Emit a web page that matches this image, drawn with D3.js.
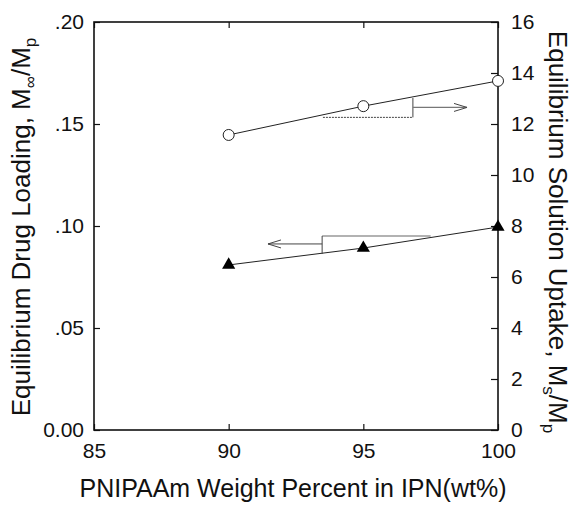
<!DOCTYPE html>
<html>
<head>
<meta charset="utf-8">
<script src="https://cdn.jsdelivr.net/npm/d3@7/dist/d3.min.js"></script>
<style>
  body { margin: 0; background: #fff; }
  text { font-family: "Liberation Sans", Arial, sans-serif; fill: #111; }
</style>
</head>
<body>
<div id="chart"></div>
<script>
// Data
const pnipaam = [90, 95, 100];
const drugLoading = [0.0809, 0.0892, 0.0995];     // left axis, triangles
const solutionUptake = [11.57, 12.70, 13.69];     // right axis, circles

// Ticks
const xTicks = [85, 90, 95, 100];
const leftTicks = [0, 0.05, 0.10, 0.15, 0.20];
const leftTickLabels = ["0.00", ".05", ".10", ".15", ".20"];
const rightTicks = [0, 2, 4, 6, 8, 10, 12, 14, 16];

// Dimensions
const dims = {width: 577, height: 506};
const plot = {left: 94, right: 498, top: 22, bottom: 430};

// Scales
const x = d3.scaleLinear().domain([85, 100]).range([plot.left, plot.right]);
const yL = d3.scaleLinear().domain([0, 0.2]).range([plot.bottom, plot.top]);
const yR = d3.scaleLinear().domain([0, 16]).range([plot.bottom, plot.top]);

// SVG
const svg = d3.select('#chart')
  .append('svg')
  .attr('width', dims.width)
  .attr('height', dims.height);

// Axes (ticks point inward)
const axisFont = 21;

const bottomAxis = svg.append('g')
  .attr('transform', `translate(0, ${plot.bottom})`)
  .call(d3.axisBottom(x).tickValues(xTicks).tickSize(-6).tickSizeOuter(0).tickPadding(13).tickFormat(d3.format('d')));

const topAxis = svg.append('g')
  .attr('transform', `translate(0, ${plot.top})`)
  .call(d3.axisTop(x).tickValues(xTicks).tickSize(-6).tickSizeOuter(0).tickFormat(''));

const leftAxis = svg.append('g')
  .attr('transform', `translate(${plot.left}, 0)`)
  .call(d3.axisLeft(yL).tickValues(leftTicks).tickSize(-6).tickSizeOuter(0).tickPadding(10)
    .tickFormat((d, i) => leftTickLabels[i]));

const rightAxis = svg.append('g')
  .attr('transform', `translate(${plot.right}, 0)`)
  .call(d3.axisRight(yR).tickValues(rightTicks).tickSize(-7).tickSizeOuter(0).tickPadding(13)
    .tickFormat(d3.format('d')));

[bottomAxis, topAxis, leftAxis, rightAxis].forEach(g => {
  g.select('.domain').remove();
  g.selectAll('line').attr('stroke', '#111').attr('stroke-width', 1.2);
  g.selectAll('text')
    .style('font-family', '"Liberation Sans", Arial, sans-serif')
    .style('font-size', axisFont + 'px')
    .attr('fill', '#111');
});

// Frame
svg.append('rect')
  .attr('x', plot.left).attr('y', plot.top)
  .attr('width', plot.right - plot.left)
  .attr('height', plot.bottom - plot.top)
  .attr('fill', 'none')
  .attr('stroke', '#111')
  .attr('stroke-width', 1.6);

// Lines through the points
const lineL = d3.line().x((d, i) => x(pnipaam[i])).y(d => yL(d));
const lineR = d3.line().x((d, i) => x(pnipaam[i])).y(d => yR(d));

svg.append('path')
  .datum(solutionUptake)
  .attr('d', lineR)
  .attr('fill', 'none')
  .attr('stroke', '#222')
  .attr('stroke-width', 1);

svg.append('path')
  .datum(drugLoading)
  .attr('d', lineL)
  .attr('fill', 'none')
  .attr('stroke', '#222')
  .attr('stroke-width', 1);

// Axis indicator arrows (in data units)
const arrowR = {xStart: 93.5, xBend: 96.84, xEnd: 98.85, yLow: 12.26, yMid: 12.65, yHigh: 13.02};
const arrowL = {xStart: 97.5, xBend: 93.47, xEnd: 91.46, yTop: 0.0951, yMid: 0.0912, yLow: 0.0863};

// open arrow head
function head(g, tipX, tipY, dir) {
  g.append('path')
    .attr('d', `M${tipX - dir * 13},${tipY - 4} L${tipX},${tipY} L${tipX - dir * 13},${tipY + 4}`)
    .attr('fill', 'none')
    .attr('stroke', '#444')
    .attr('stroke-width', 1);
}

const arrows = svg.append('g').attr('class', 'arrows');

// right-pointing arrow (circles -> right axis)
arrows.append('line')
  .attr('x1', x(arrowR.xStart)).attr('y1', yR(arrowR.yLow))
  .attr('x2', x(arrowR.xBend)).attr('y2', yR(arrowR.yLow))
  .attr('stroke', '#444').attr('stroke-width', 1).attr('stroke-dasharray', '2,1');
arrows.append('line')
  .attr('x1', x(arrowR.xBend)).attr('y1', yR(arrowR.yLow))
  .attr('x2', x(arrowR.xBend)).attr('y2', yR(arrowR.yHigh))
  .attr('stroke', '#444').attr('stroke-width', 1);
arrows.append('line')
  .attr('x1', x(arrowR.xBend)).attr('y1', yR(arrowR.yMid))
  .attr('x2', x(arrowR.xEnd)).attr('y2', yR(arrowR.yMid))
  .attr('stroke', '#777').attr('stroke-width', 1.2);
head(arrows, x(arrowR.xEnd), yR(arrowR.yMid), 1);

// left-pointing arrow (triangles -> left axis)
arrows.append('line')
  .attr('x1', x(arrowL.xStart)).attr('y1', yL(arrowL.yTop))
  .attr('x2', x(arrowL.xBend)).attr('y2', yL(arrowL.yTop))
  .attr('stroke', '#999').attr('stroke-width', 1.5);
arrows.append('line')
  .attr('x1', x(arrowL.xBend)).attr('y1', yL(arrowL.yTop))
  .attr('x2', x(arrowL.xBend)).attr('y2', yL(arrowL.yLow))
  .attr('stroke', '#444').attr('stroke-width', 1);
arrows.append('line')
  .attr('x1', x(arrowL.xBend)).attr('y1', yL(arrowL.yMid))
  .attr('x2', x(arrowL.xEnd)).attr('y2', yL(arrowL.yMid))
  .attr('stroke', '#444').attr('stroke-width', 1);
head(arrows, x(arrowL.xEnd), yL(arrowL.yMid), -1);

// Markers
svg.append('g').selectAll('circle')
  .data(solutionUptake)
  .enter()
  .append('circle')
    .attr('cx', (d, i) => x(pnipaam[i]))
    .attr('cy', d => yR(d))
    .attr('r', 5.5)
    .attr('fill', '#fff')
    .attr('stroke', '#222')
    .attr('stroke-width', 1);

const tri = d3.symbol().type(d3.symbolTriangle).size(75);
svg.append('g').selectAll('path')
  .data(drugLoading)
  .enter()
  .append('path')
    .attr('d', tri)
    .attr('transform', (d, i) => `translate(${x(pnipaam[i])}, ${yL(d)})`)
    .attr('fill', '#000');

// Axis titles
const titleFont = 26;
const subFont = 17;

svg.append('text')
  .attr('x', (plot.left + plot.right) / 2 - 3)
  .attr('y', 497)
  .attr('text-anchor', 'middle')
  .style('font-size', '25px')
  .text('PNIPAAm Weight Percent in IPN(wt%)');

const leftTitle = svg.append('text')
  .attr('transform', `translate(30, ${(plot.top + plot.bottom) / 2 + 1}) rotate(-90)`)
  .attr('text-anchor', 'middle')
  .style('font-size', titleFont + 'px');
leftTitle.append('tspan').text('Equilibrium Drug Loading, M');
leftTitle.append('tspan').attr('dy', 6).style('font-size', subFont + 'px').text('∞');
leftTitle.append('tspan').attr('dy', -6).text('/M');
leftTitle.append('tspan').attr('dy', 6).style('font-size', subFont + 'px').text('p');

const rightTitle = svg.append('text')
  .attr('transform', `translate(549, ${(plot.top + plot.bottom) / 2 + 6}) rotate(90)`)
  .attr('text-anchor', 'middle')
  .style('font-size', titleFont + 'px');
rightTitle.append('tspan').text('Equilibrium Solution Uptake, M');
rightTitle.append('tspan').attr('dy', 6).style('font-size', subFont + 'px').text('s');
rightTitle.append('tspan').attr('dy', -6).text('/M');
rightTitle.append('tspan').attr('dy', 6).style('font-size', subFont + 'px').text('p');
</script>
</body>
</html>
